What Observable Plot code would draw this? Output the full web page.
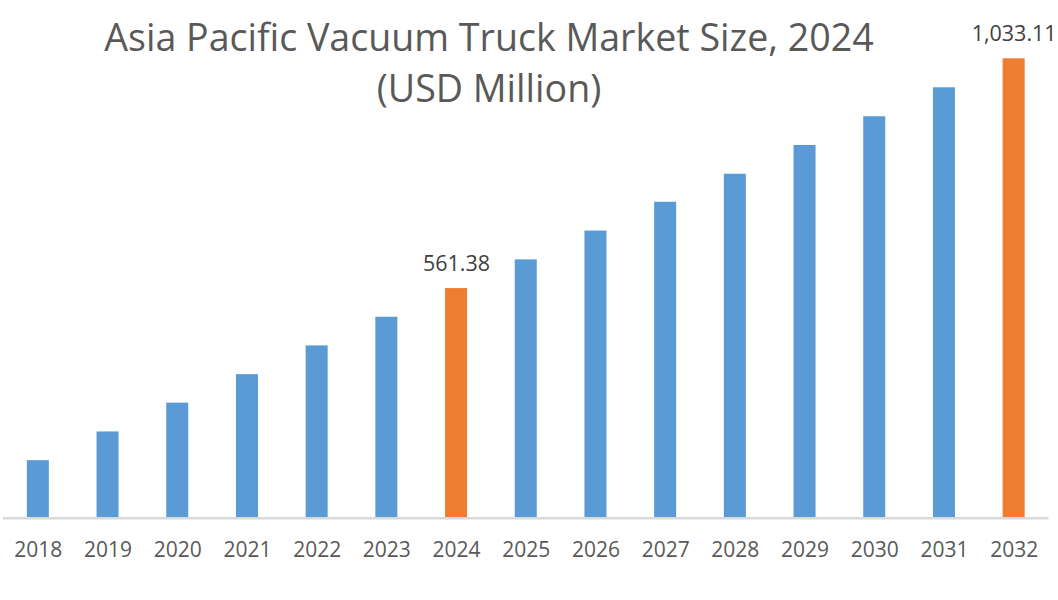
<!DOCTYPE html>
<html>
<head>
<meta charset="utf-8">
<script src="https://cdn.jsdelivr.net/npm/d3@7"></script>
<script src="https://cdn.jsdelivr.net/npm/@observablehq/plot@0.6"></script>
<style>
  html, body { margin: 0; padding: 0; background: #fff; }
  #wrap { position: relative; width: 1058px; height: 600px; overflow: hidden; }
  #title {
    position: absolute; left: 0; top: 11px; width: 978px;
    text-align: center; font-family: "Open Sans", sans-serif;
    font-size: 37.6px; line-height: 51px; color: #595959; pointer-events: none;
  }
  #chart { position: absolute; left: 0; top: 0; }
</style>
</head>
<body>
<div id="wrap">
  <div id="chart"></div>
  <div id="title">Asia Pacific Vacuum Truck Market Size, 2024<br>(USD Million)</div>
</div>
<script>
const years = ["2018","2019","2020","2021","2022","2023","2024","2025","2026","2027","2028","2029","2030","2031","2032"];
const values = [208.1, 267.1, 326.2, 384.7, 443.7, 502.5, 561.38, 620.3, 679.5, 738.6, 796.1, 855.1, 914.1, 973.6, 1033.11];
const highlighted = ["2024", "2032"];
const labels = {"2024": "561.38", "2032": "1,033.11"};
const yMin = 90;
const yMax = 1100;

const data = years.map((year, i) => ({year, value: values[i], hi: highlighted.includes(year)}));

const chart = Plot.plot({
  width: 1058,
  height: 600,
  marginLeft: 3,
  marginRight: 9.5,
  marginTop: 25.7,
  marginBottom: 82.3,
  style: {fontFamily: "Open Sans, sans-serif", background: "transparent"},
  x: {domain: years, paddingInner: 0.684, paddingOuter: 0.342, round: false, label: null},
  y: {domain: [yMin, yMax], axis: null},
  marks: [
    Plot.barY(data, {x: "year", y1: () => yMin, y2: "value", fill: d => d.hi ? "#ED7D31" : "#5B9BD5"}),
    Plot.ruleY([yMin], {stroke: "#d9d9d9", strokeWidth: 2.5}),
    Plot.text(data.filter(d => d.hi), {x: "year", y: "value", text: d => labels[d.year], dy: -18, lineAnchor: "bottom", fontSize: 21.5, fill: "#404040"}),
    Plot.axisX({tickSize: 0, tickPadding: 24, fontSize: 21, fill: "#595959", label: null})
  ]
});
document.getElementById("chart").appendChild(chart);
</script>
</body>
</html>
